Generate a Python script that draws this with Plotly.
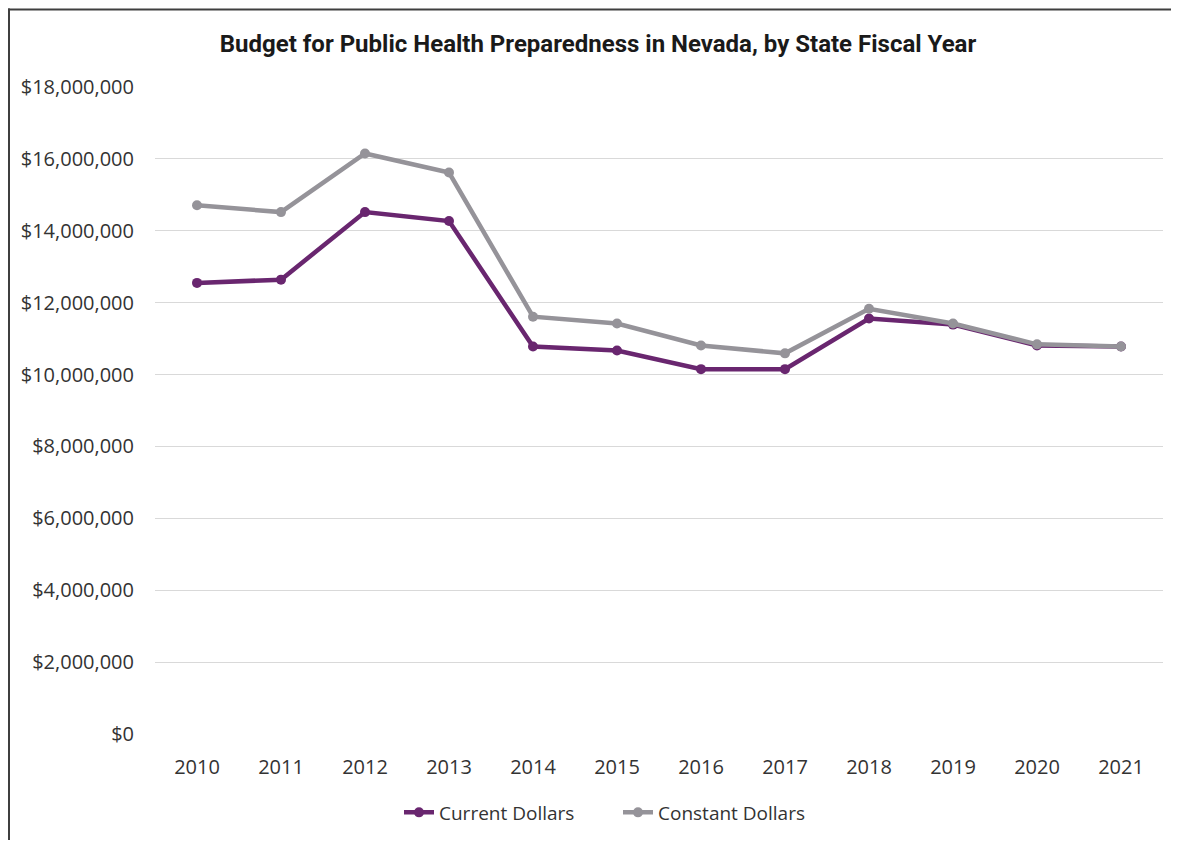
import plotly.graph_objects as go

years = ["2010", "2011", "2012", "2013", "2014", "2015", "2016", "2017", "2018", "2019", "2020", "2021"]
current_dollars = [12550000, 12640000, 14520000, 14270000, 10780000, 10670000, 10150000, 10150000, 11560000, 11390000, 10810000, 10780000]
constant_dollars = [14710000, 14520000, 16150000, 15620000, 11610000, 11420000, 10810000, 10590000, 11830000, 11420000, 10840000, 10780000]
y_ticks = [0, 2000000, 4000000, 6000000, 8000000, 10000000, 12000000, 14000000, 16000000, 18000000]

PURPLE = "#69266f"
GRAY = "#959399"

W, H = 1163, 832
L, R, T, B = 147, 8, 79, 102

fig = go.Figure()
fig.add_trace(go.Scatter(x=years, y=current_dollars, name="Current Dollars", mode="lines+markers",
                         line=dict(color=PURPLE, width=4.5), marker=dict(size=10, color=PURPLE)))
fig.add_trace(go.Scatter(x=years, y=constant_dollars, name="Constant Dollars", mode="lines+markers",
                         line=dict(color=GRAY, width=4.5), marker=dict(size=10, color=GRAY)))

fig.update_layout(
    width=W, height=H,
    paper_bgcolor="white", plot_bgcolor="white",
    margin=dict(l=L, r=R, t=T, b=B),
    title=dict(text="<b>Budget for Public Health Preparedness in Nevada, by State Fiscal Year</b>",
               x=590 / W, xanchor="center", y=1 - 36 / H, yanchor="middle",
               font=dict(family="Roboto, sans-serif", size=24, color="#1a1a1a")),
    font=dict(family="Open Sans, Lato, sans-serif", size=20, color="#333333"),
    legend=dict(orientation="h", x=(610 - L) / 1008, xanchor="center", y=-79 / 651, yanchor="middle",
                font=dict(size=19, color="#333333"), traceorder="normal",
                entrywidth=174, entrywidthmode="pixels"),
    showlegend=True,
)
fig.update_xaxes(type="category", range=[-0.5, 11.5], showgrid=False, showline=False, ticks="",
                 tickfont=dict(size=20), ticklabelstandoff=19)
fig.update_yaxes(range=[0, 18000000], tickvals=y_ticks,
                 ticktext=["$" + format(v, ",") for v in y_ticks],
                 showgrid=True, gridcolor="#d9d9d9", gridwidth=1, zeroline=False, showline=False,
                 tickfont=dict(size=20), ticklabelstandoff=20)

# border lines (top and left), positioned in figure pixels
pw, ph = W - L - R, H - T - B
def px_x(x): return (x - L) / pw
def px_y(y): return (H - B - y) / ph
fig.add_shape(type="line", xref="paper", yref="paper", x0=px_x(0), x1=px_x(W + 10), y0=px_y(1), y1=px_y(1),
              line=dict(color="#3f3f3f", width=2))
fig.add_shape(type="line", xref="paper", yref="paper", x0=px_x(1), x1=px_x(1), y0=px_y(0), y1=px_y(H + 10),
              line=dict(color="#3f3f3f", width=2))

fig.write_html("out.html")
